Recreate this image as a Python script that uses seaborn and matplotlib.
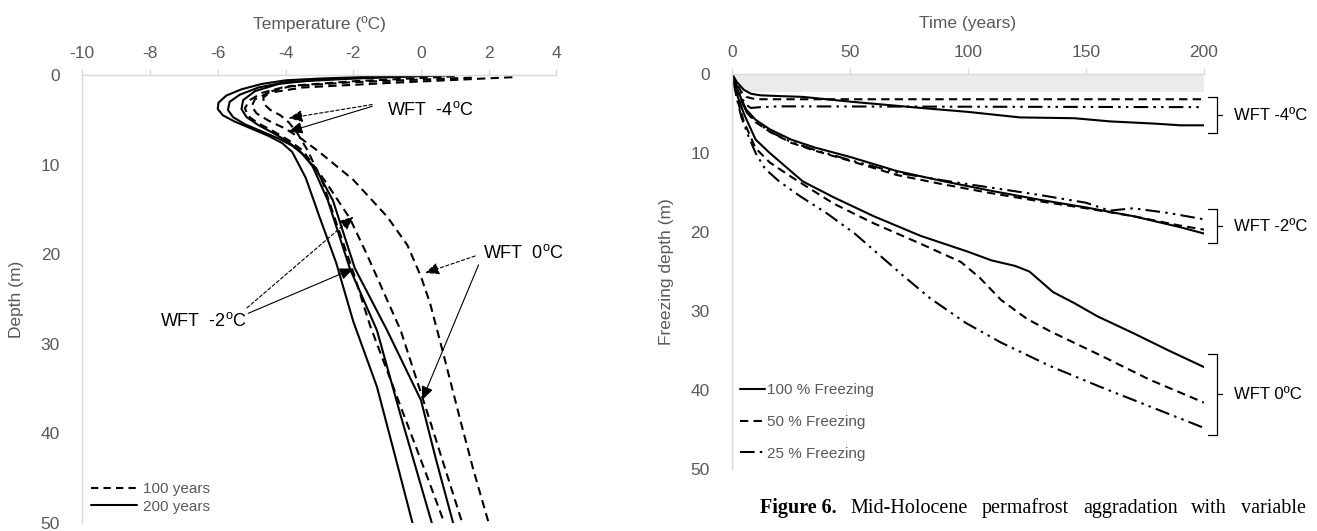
import matplotlib
matplotlib.use("Agg")
import matplotlib.pyplot as plt
from matplotlib.lines import Line2D
import seaborn as sns

sns.set_theme(style="white")
plt.rcParams["font.family"] = ["Liberation Sans", "DejaVu Sans"]
plt.rcParams["axes.unicode_minus"] = False

GRAY = "#595959"
SPINE = "#d9d9d9"

# ==========================
# LEFT PANEL - temperature profiles (T in degC, depth in m)
# ==========================
# WFT -4 : 200 years (solid) / 100 years (dashed)
a_temp = [1.0, -1.5, -3.0, -4.0, -4.7, -5.3, -5.75, -5.98, -6.0, -5.85, -5.5, -5.0, -4.5, -4.1, -3.8, -3.4, -3.0, -2.5, -2.0, -1.3, -0.8, -0.25]
a_depth = [0.0, 0.2, 0.4, 0.6, 1.0, 1.6, 2.3, 3.1, 3.8, 4.5, 5.2, 6.0, 6.8, 7.6, 8.6, 11.5, 15.8, 21.0, 27.5, 34.8, 42.0, 50.0]
d_temp = [1.0, -2.0, -3.8, -4.4, -4.65, -4.65, -4.45, -4.15, -3.9, -3.65, -3.35, -2.9, -2.5, -2.0, -1.5, -0.5, 0.2, 0.69]
d_depth = [0.15, 0.7, 1.2, 1.8, 2.5, 3.2, 3.9, 4.5, 5.3, 6.5, 8.4, 12.0, 16.5, 22.0, 28.0, 38.0, 45.0, 50.0]
# WFT -2
b_temp = [0.8, -2.0, -4.0, -4.8, -5.35, -5.65, -5.7, -5.55, -5.2, -4.7, -4.2, -3.8, -3.5, -3.2, -2.75, -2.1, -1.3, -0.6, 0.32]
b_depth = [0.0, 0.4, 0.8, 1.4, 2.2, 3.0, 3.9, 4.7, 5.5, 6.3, 7.1, 7.9, 8.8, 10.2, 14.0, 21.6, 28.5, 38.0, 50.0]
e_temp = [1.5, -2.0, -4.0, -4.7, -5.05, -5.2, -5.1, -4.8, -4.35, -3.9, -3.5, -2.8, -2.1, -1.6, -0.6, 0.3, 1.22]
e_depth = [0.3, 0.8, 1.3, 2.0, 2.8, 3.7, 4.6, 5.4, 6.3, 7.3, 8.4, 12.0, 16.0, 20.0, 28.5, 39.0, 50.0]
# WFT 0
c_temp = [1.0, -1.5, -3.0, -4.2, -4.9, -5.25, -5.3, -5.15, -4.8, -4.35, -3.95, -3.6, -3.1, -2.6, -1.95, -1.0, 0.0, 0.45, 0.95]
c_depth = [0.0, 0.3, 0.5, 1.0, 1.8, 2.8, 3.8, 4.7, 5.6, 6.5, 7.4, 8.4, 10.5, 14.0, 21.6, 28.5, 36.3, 43.0, 50.0]
f_temp = [2.7, -1.0, -3.5, -4.5, -4.9, -5.0, -4.85, -4.5, -4.0, -3.5, -3.0, -2.0, -1.0, -0.4, 0.0, 0.27, 0.66, 1.16, 1.55, 2.0]
f_depth = [0.25, 0.9, 1.4, 2.0, 2.7, 3.5, 4.3, 5.1, 6.0, 7.2, 8.6, 11.7, 15.8, 19.0, 22.5, 25.5, 31.1, 38.5, 44.1, 50.0]

# ==========================
# RIGHT PANEL - freezing depth vs time
# ==========================
band_t = [0, 200]
band_d = [2.3, 2.3]

# WFT -4
s4_t = [0, 2, 5, 8, 12, 20, 30, 50, 80, 100, 122, 145, 160, 180, 190, 200]
s4_d = [0, 1.0, 2.0, 2.5, 2.7, 2.8, 2.9, 3.5, 4.3, 4.8, 5.5, 5.6, 6.0, 6.3, 6.5, 6.5]
h4_t = [0, 2, 4, 6, 10, 200]
h4_d = [0, 1.2, 2.3, 2.9, 3.2, 3.2]
q4_t = [0, 2, 4, 6, 8, 12, 20, 200]
q4_d = [0, 1.5, 3.0, 3.9, 4.3, 4.2, 4.1, 4.2]
# WFT -2
s2_t = [0, 3, 6, 10, 16, 25, 35, 50, 70, 90, 110, 130, 150, 170, 190, 200]
s2_d = [0, 2.5, 4.5, 5.8, 7.0, 8.3, 9.3, 10.5, 12.3, 13.6, 14.8, 15.9, 16.9, 18.0, 19.4, 20.2]
h2_t = [0, 3, 6, 10, 16, 25, 35, 50, 70, 90, 110, 130, 150, 170, 190, 200]
h2_d = [0, 2.7, 4.8, 6.1, 7.3, 8.7, 9.7, 11.0, 12.8, 14.0, 15.1, 16.1, 17.0, 18.0, 19.2, 19.7]
q2_t = [0, 3, 6, 10, 16, 25, 35, 50, 70, 90, 110, 130, 150, 160, 170, 185, 200]
q2_d = [0, 2.6, 4.7, 6.0, 7.3, 8.6, 9.6, 10.9, 12.5, 13.5, 14.4, 15.3, 16.3, 17.3, 17.0, 17.6, 18.4]
# WFT 0
s0_t = [0, 2, 5, 10, 16, 30, 43, 60, 80, 92, 100, 110, 120, 126, 136, 145, 155, 170, 185, 200]
s0_d = [0, 2.5, 5.0, 8.3, 10.0, 13.6, 15.6, 18.0, 20.5, 21.7, 22.5, 23.6, 24.3, 25.0, 27.6, 29.0, 30.7, 32.8, 35.0, 37.1]
h0_t = [0, 2, 5, 10, 16, 25, 43, 60, 80, 97, 105, 114, 125, 135, 156, 177, 200]
h0_d = [0, 3.0, 6.0, 9.4, 11.2, 13.0, 16.4, 18.9, 21.5, 23.8, 25.8, 28.6, 31.0, 32.6, 35.6, 38.7, 41.6]
q0_t = [0, 2, 4, 7, 10, 14, 20, 29, 40, 52, 62, 72, 84, 99, 114, 135, 156, 178, 200]
q0_d = [0, 3.0, 5.5, 7.9, 10.0, 12.0, 13.6, 15.5, 17.6, 20.2, 22.8, 25.4, 28.4, 31.5, 34.0, 37.0, 39.6, 42.2, 44.8]

DASH = (0, (4, 2.5))
DDOT = (0, (7, 2.5, 1.2, 2.5, 1.2, 2.5))

fig = plt.figure(figsize=(13.17, 5.31), dpi=100)
ax1 = fig.add_axes([0.0625, 0.0151, 0.360, 0.8437])
ax2 = fig.add_axes([0.5558, 0.1168, 0.3584, 0.7439])

# ---------- left ----------
for tt, dd, ls in [(a_temp, a_depth, "-"), (d_temp, d_depth, DASH),
                   (b_temp, b_depth, "-"), (e_temp, e_depth, DASH),
                   (c_temp, c_depth, "-"), (f_temp, f_depth, DASH)]:
    sns.lineplot(x=tt, y=dd, sort=False, estimator=None, color="black",
                 linewidth=1.5, linestyle=ls, ax=ax1)

ax1.set_xlim(-10, 4)
ax1.set_ylim(50, 0)
ax1.set_xticks(range(-10, 5, 2))
ax1.set_yticks(range(0, 51, 10))
ax1.xaxis.tick_top()
ax1.xaxis.set_label_position("top")
ax1.set_xlabel("Temperature (ºC)", color=GRAY, fontsize=12.5, labelpad=12)
ax1.set_ylabel("Depth (m)", color=GRAY, fontsize=12.5, labelpad=12)

wft_kw = dict(fontsize=13, color="black", va="center", ha="left")
ax1.text(-1.0, 3.9, r"WFT  -4$^{\mathregular{o}}$C", **wft_kw)
ax1.text(-7.7, 27.5, r"WFT  -2$^{\mathregular{o}}$C", **wft_kw)
ax1.text(1.84, 19.9, r"WFT  0$^{\mathregular{o}}$C", **wft_kw)

def arrow(ax, start, tip, dashed):
    ax.annotate("", xy=tip, xytext=start,
                arrowprops=dict(arrowstyle="-|>,head_length=0.7,head_width=0.3",
                                color="black", lw=0.8,
                                linestyle=(0, (3, 2)) if dashed else "-",
                                shrinkA=0, shrinkB=0))

arrow(ax1, (-1.44, 3.3), (-3.91, 4.83), True)
arrow(ax1, (-1.44, 3.5), (-3.91, 6.33), False)
arrow(ax1, (-5.14, 26.0), (-1.99, 15.8), True)
arrow(ax1, (-5.1, 26.6), (-1.99, 21.6), False)
arrow(ax1, (1.6, 20.2), (0.12, 22.1), True)
arrow(ax1, (1.7, 21.2), (0.03, 36.3), False)

leg1 = ax1.legend(handles=[Line2D([], [], color="black", lw=1.5, ls=(0, (3.5, 2.5))),
                           Line2D([], [], color="black", lw=1.5)],
                  labels=["100 years", "200 years"], loc="lower left",
                  bbox_to_anchor=(0.0, 0.0), frameon=False, fontsize=11,
                  handlelength=3.0, handletextpad=0.4, labelspacing=0.25,
                  borderpad=0.3, borderaxespad=0.3)
for t in leg1.get_texts():
    t.set_color(GRAY)

# ---------- right ----------
ax2.fill_between(band_t, 0, band_d, color="#ebebeb", lw=0)
for tt, dd, ls in [(s4_t, s4_d, "-"), (h4_t, h4_d, DASH), (q4_t, q4_d, DDOT),
                   (s2_t, s2_d, "-"), (h2_t, h2_d, DASH), (q2_t, q2_d, DDOT),
                   (s0_t, s0_d, "-"), (h0_t, h0_d, DASH), (q0_t, q0_d, DDOT)]:
    sns.lineplot(x=tt, y=dd, sort=False, estimator=None, color="black",
                 linewidth=1.5, linestyle=ls, ax=ax2)

ax2.set_xlim(0, 200)
ax2.set_ylim(50, 0)
ax2.set_xticks(range(0, 201, 50))
ax2.set_yticks(range(0, 51, 10))
ax2.xaxis.tick_top()
ax2.xaxis.set_label_position("top")
ax2.set_xlabel("Time (years)", color=GRAY, fontsize=12.5, labelpad=12)
ax2.set_ylabel("Freezing depth (m)", color=GRAY, fontsize=12.5, labelpad=12)

leg2 = ax2.legend(handles=[Line2D([], [], color="black", lw=1.5),
                           Line2D([], [], color="black", lw=1.5, ls=DASH),
                           Line2D([], [], color="black", lw=1.5, ls=DDOT)],
                  labels=["100 % Freezing", "50 % Freezing", "25 % Freezing"],
                  loc="lower left", bbox_to_anchor=(0.0, 0.0), frameon=False,
                  fontsize=11, handlelength=1.6, handletextpad=0.15,
                  labelspacing=1.15, borderpad=0.2, borderaxespad=0.35)
for t in leg2.get_texts():
    t.set_color(GRAY)

# brackets on the right side
brackets = [("WFT -4ºC", 2.9, 7.5), ("WFT -2ºC", 17.1, 21.4), ("WFT 0ºC", 35.4, 45.7)]
for lab, top, bot in brackets:
    mid = (top + bot) / 2
    ax2.plot([201.7, 205.3, 205.3, 201.7], [top, top, bot, bot], color="black",
             lw=0.9, clip_on=False)
    ax2.plot([205.3, 207.5], [mid, mid], color="black", lw=0.9, clip_on=False)
    ax2.text(212.5, mid, lab, fontsize=12, color="black", va="center", ha="left")

for ax in (ax1, ax2):
    for s in ("right", "bottom"):
        ax.spines[s].set_visible(False)
    for s in ("top", "left"):
        ax.spines[s].set_color(SPINE)
        ax.spines[s].set_linewidth(1.0)
    ax.tick_params(axis="x", top=True, bottom=False, length=4, width=1,
                   color=SPINE, labelcolor=GRAY, labelsize=12.5, pad=6)
    ax.tick_params(axis="y", left=False, labelcolor=GRAY, labelsize=12.5, pad=10)

# caption (justified word by word)
words = ["Figure 6.", "Mid-Holocene", "permafrost", "aggradation", "with", "variable"]
fig.canvas.draw()
rend = fig.canvas.get_renderer()
objs = []
for i, w in enumerate(words):
    objs.append(fig.text(0, 0.033, w, fontsize=14.5, color="black",
                         family=["Liberation Serif", "DejaVu Serif"],
                         weight="bold" if i == 0 else "normal", va="baseline"))
x0, x1 = 760 / 1317, 1306 / 1317
widths = [o.get_window_extent(rend).width / 1317 for o in objs]
gap = (x1 - x0 - sum(widths)) / (len(words) - 1)
x = x0
for o, w in zip(objs, widths):
    o.set_x(x)
    x += w + gap

fig.savefig("out.png", dpi=100)
